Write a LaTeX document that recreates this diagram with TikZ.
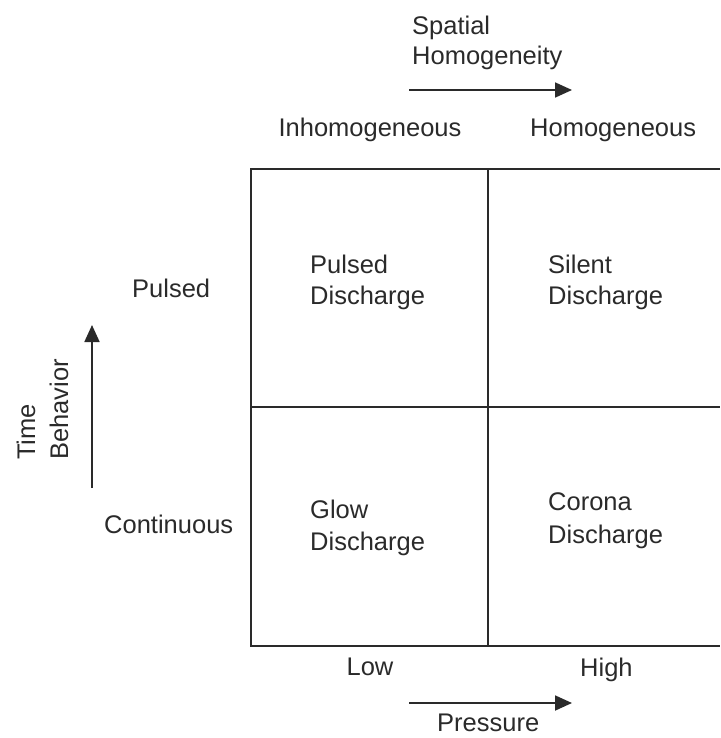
\documentclass[tikz,border=0pt]{standalone}
\usepackage{fontspec}
\setmainfont{Liberation Sans}
\usetikzlibrary{arrows.meta}
\definecolor{ink}{HTML}{2A2A2A}
\begin{document}
\begin{tikzpicture}[x=1pt,y=-1pt,
  lab/.style={inner sep=0pt,text=ink,font=\fontsize{25.5}{30}\selectfont,anchor=base west},
  labc/.style={lab,anchor=base},
  grid/.style={draw=ink,line width=1.8pt},
  axis/.style={draw=ink,line width=1.8pt,-{Triangle[length=17pt,width=15pt]}}]
\useasboundingbox (0,0) rectangle (720,738);
% grid
\coordinate (tl) at (251,169);
\coordinate (tm) at (488,169);
\coordinate (tr) at (720,169);
\coordinate (ml) at (251,407);
\coordinate (mr) at (720,407);
\coordinate (bl) at (251,646);
\coordinate (bm) at (488,646);
\coordinate (br) at (720,646);
\draw[grid] (tr) -- (tl) -- (bl) -- (br);
\draw[grid] (tm) -- (bm);
\draw[grid] (ml) -- (mr);
% top axis
\node[lab] (sp1) at (412,35) {Spatial};
\node[lab] (sp2) at (412,65) {Homogeneity};
\coordinate (ta0) at (409,90);
\coordinate (ta1) at (572,90);
\draw[axis] (ta0) -- (ta1);
\node[labc] (inh) at (370,137) {Inhomogeneous};
\node[lab] (hom) at (530,137) {Homogeneous};
% left axis
\node[lab] (pul) at (132,297) {Pulsed};
\node[lab] (con) at (104,533) {Continuous};
\coordinate (la0) at (92,488);
\coordinate (la1) at (92,325);
\draw[axis] (la0) -- (la1);
\node[lab,rotate=90] (time) at (35,460) {Time};
\node[lab,rotate=90] (beh) at (68,460) {Behavior};
% cells
\node[lab] (c1a) at (310,273) {Pulsed};
\node[lab] (c1b) at (310,304) {Discharge};
\node[lab] (c2a) at (548,273) {Silent};
\node[lab] (c2b) at (548,304) {Discharge};
\node[lab] (c3a) at (310,518) {Glow};
\node[lab] (c3b) at (310,550) {Discharge};
\node[lab] (c4a) at (548,510) {Corona};
\node[lab] (c4b) at (548,543) {Discharge};
% bottom axis
\node[labc] (low) at (370,675) {Low};
\node[lab] (high) at (580,676) {High};
\coordinate (ba0) at (409,703);
\coordinate (ba1) at (572,703);
\draw[axis] (ba0) -- (ba1);
\node[lab] (pre) at (437,731) {Pressure};
\end{tikzpicture}
\end{document}
